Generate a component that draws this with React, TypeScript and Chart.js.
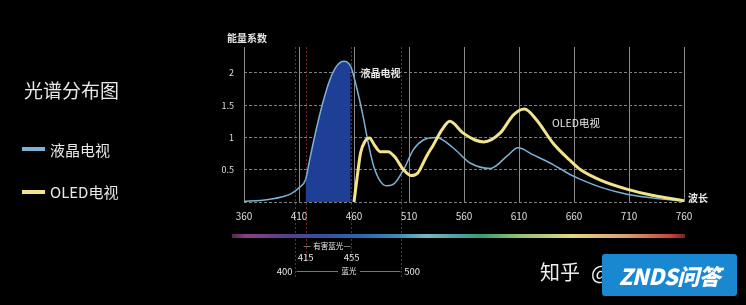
import React, { useEffect, useRef } from "react";
import { Chart, registerables } from "chart.js";

Chart.register(...registerables);

const FONT = '"Noto Sans CJK SC", "Noto Sans", sans-serif';

// LCD TV spectrum (wavelength nm, relative energy)
const LCD_WAVELENGTHS = [360, 375, 385, 395, 403, 410, 416, 420, 426, 432, 438, 444, 451, 457, 462, 468, 473, 478, 484, 490, 497, 505, 514, 523, 535, 550, 566, 584, 599, 609, 623, 641, 656, 666, 684, 708, 732, 760];
const LCD_VALUES = [0.01, 0.025, 0.045, 0.08, 0.13, 0.22, 0.35, 0.68, 1.15, 1.56, 1.89, 2.1, 2.18, 2.1, 1.8, 1.35, 0.91, 0.55, 0.32, 0.25, 0.29, 0.5, 0.81, 0.96, 1.0, 0.84, 0.6, 0.52, 0.71, 0.84, 0.73, 0.58, 0.43, 0.35, 0.23, 0.12, 0.06, 0.01];

// OLED TV spectrum
const OLED_WAVELENGTHS = [460, 463, 466, 470, 474, 479, 484, 491, 497, 505, 512, 518, 526, 532, 540, 547, 559, 570, 578, 593, 605, 615, 626, 641, 656, 666, 684, 708, 732, 760];
const OLED_VALUES = [0, 0.4, 0.76, 0.94, 0.99, 0.87, 0.78, 0.78, 0.7, 0.5, 0.41, 0.45, 0.71, 0.88, 1.12, 1.25, 1.07, 0.96, 0.93, 1.07, 1.35, 1.44, 1.27, 0.91, 0.65, 0.5, 0.34, 0.2, 0.1, 0.02];

const SERIES_NAMES = ["液晶电视", "OLED电视"];
const X_MIN = 360;
const X_MAX = 760;
const X_STEP = 50;
const Y_MIN = 0;
const Y_MAX = 2.4;
const Y_STEP = 0.5;
const Y_LAST_TICK = 2;

// harmful blue light band (drawn positions) and its labels
const HARMFUL_BAND = [416, 457];
const HARMFUL_LABELS = ["415", "455"];
// blue light band
const BLUE_BAND = [406, 503];
const BLUE_LABELS = ["400", "500"];

const LCD_COLOR = "#7db2d6";
const OLED_COLOR = "#f3e48c";
const FILL_COLOR = "#1f3f96";

const annotationPlugin = {
  id: "spectrumAnnotations",
  beforeDatasetsDraw(chart: any) {
    const { ctx, chartArea, scales } = chart;
    const x = scales.x;
    ctx.save();
    ctx.strokeStyle = "rgba(150,45,45,0.8)";
    ctx.lineWidth = 1;
    ctx.setLineDash([2, 2]);
    const lines: [number, number][] = [
      [BLUE_BAND[0], 76],
      [HARMFUL_BAND[0], 58],
      [HARMFUL_BAND[1], 58],
      [BLUE_BAND[1], 76],
    ];
    for (const [wl, extra] of lines) {
      const px = Math.round(x.getPixelForValue(wl)) + 0.5;
      ctx.beginPath();
      ctx.moveTo(px, chartArea.top);
      ctx.lineTo(px, chartArea.bottom + extra);
      ctx.stroke();
    }
    ctx.restore();
  },
  afterDraw(chart: any) {
    const { ctx, chartArea, scales } = chart;
    const x = scales.x;
    const y = scales.y;
    const b = chartArea.bottom;
    ctx.save();

    // spectrum bar
    const x0 = chartArea.left - 12;
    const x1 = chartArea.right + 1;
    const g = ctx.createLinearGradient(x0, 0, x1, 0);
    g.addColorStop(0, "rgba(140,60,130,0.6)");
    g.addColorStop(0.03, "#8a3f82");
    g.addColorStop(0.12, "#5a3f8c");
    g.addColorStop(0.2, "#35509a");
    g.addColorStop(0.29, "#2a6aac");
    g.addColorStop(0.37, "#3e8fb8");
    g.addColorStop(0.43, "#7ab6c4");
    g.addColorStop(0.5, "#4aa2a0");
    g.addColorStop(0.55, "#3a9c72");
    g.addColorStop(0.63, "#8fbf72");
    g.addColorStop(0.75, "#e3d682");
    g.addColorStop(0.87, "#d9a06c");
    g.addColorStop(0.97, "#c8403e");
    g.addColorStop(1, "rgba(200,56,60,0.6)");
    ctx.fillStyle = g;
    ctx.fillRect(x0, b + 32, x1 - x0, 4);

    ctx.fillStyle = "#e6e6e6";
    ctx.textBaseline = "middle";

    // axis titles and series labels inside chart
    ctx.font = `bold 10px ${FONT}`;
    ctx.textAlign = "left";
    ctx.fillText("能量系数", chartArea.left - 17, chartArea.top - 9);
    ctx.font = `bold 10px ${FONT}`;
    ctx.fillText(SERIES_NAMES[0], x.getPixelForValue(466), y.getPixelForValue(1.99));
    ctx.font = `10.5px ${FONT}`;
    ctx.fillText(SERIES_NAMES[1], x.getPixelForValue(640), y.getPixelForValue(1.22));
    ctx.font = `bold 10px ${FONT}`;
    ctx.fillText("波长", chartArea.right + 4, b - 4);

    // harmful blue light annotation
    const hl = x.getPixelForValue(HARMFUL_BAND[0]);
    const hr = x.getPixelForValue(HARMFUL_BAND[1]);
    const hm = (hl + hr) / 2;
    ctx.strokeStyle = "#777";
    ctx.lineWidth = 1;
    ctx.setLineDash([]);
    ctx.beginPath();
    ctx.moveTo(hl - 2, b + 44.5);
    ctx.lineTo(hl + 5, b + 44.5);
    ctx.moveTo(hr - 7, b + 44.5);
    ctx.lineTo(hr, b + 44.5);
    ctx.stroke();
    ctx.font = `7.5px ${FONT}`;
    ctx.textAlign = "center";
    ctx.fillText("有害蓝光", hm, b + 44.5);
    ctx.font = `9.5px ${FONT}`;
    ctx.fillText(HARMFUL_LABELS[0], hl, b + 55);
    ctx.fillText(HARMFUL_LABELS[1], hr + 1, b + 55);

    // blue light annotation
    const bl = x.getPixelForValue(BLUE_BAND[0]);
    const br = x.getPixelForValue(BLUE_BAND[1]);
    const bm = (bl + br) / 2;
    ctx.beginPath();
    ctx.moveTo(bl + 2, b + 69.5);
    ctx.lineTo(bm - 10, b + 69.5);
    ctx.moveTo(bm + 12, b + 69.5);
    ctx.lineTo(br - 1, b + 69.5);
    ctx.stroke();
    ctx.font = `7.5px ${FONT}`;
    ctx.fillText("蓝光", bm + 1, b + 69.5);
    ctx.font = `9.5px ${FONT}`;
    ctx.textAlign = "right";
    ctx.fillText(BLUE_LABELS[0], bl - 2, b + 69);
    ctx.textAlign = "left";
    ctx.fillText(BLUE_LABELS[1], br + 3, b + 69);

    ctx.restore();
  },
};

export default function App() {
  const canvasRef = useRef<HTMLCanvasElement | null>(null);

  useEffect(() => {
    document.body.style.margin = "0";
    document.body.style.background = "#000";
    const canvas = canvasRef.current;
    if (!canvas) return;
    const chart = new Chart(canvas, {
      type: "line",
      data: {
        datasets: [
          {
            label: SERIES_NAMES[0],
            data: LCD_WAVELENGTHS.map((w, i) => ({ x: w, y: LCD_VALUES[i] })),
            borderColor: LCD_COLOR,
            borderWidth: 1.5,
            backgroundColor: "transparent",
            fill: "origin",
            pointRadius: 0,
            cubicInterpolationMode: "monotone",
            segment: {
              backgroundColor: (c: any) =>
                c.p0.parsed.x >= HARMFUL_BAND[0] && c.p1.parsed.x <= HARMFUL_BAND[1]
                  ? FILL_COLOR
                  : "transparent",
            },
            order: 2,
          },
          {
            label: SERIES_NAMES[1],
            data: OLED_WAVELENGTHS.map((w, i) => ({ x: w, y: OLED_VALUES[i] })),
            borderColor: OLED_COLOR,
            borderWidth: 3,
            backgroundColor: "transparent",
            fill: false,
            pointRadius: 0,
            cubicInterpolationMode: "monotone",
            order: 1,
          },
        ],
      },
      options: {
        animation: false,
        responsive: false,
        devicePixelRatio: 1,
        layout: { padding: { left: 0, top: 47, right: 62, bottom: 0 } },
        plugins: { legend: { display: false }, tooltip: { enabled: false } },
        scales: {
          x: {
            type: "linear",
            min: X_MIN,
            max: X_MAX,
            afterFit: (s: any) => {
              s.height = 103;
            },
            ticks: {
              stepSize: X_STEP,
              color: "#dddddd",
              font: { size: 10, family: FONT },
              padding: 8,
              maxRotation: 0,
              callback: (v: any) => String(v),
            },
            grid: { color: "#8a8a8a", lineWidth: 1, drawTicks: false },
            border: { display: false },
          },
          y: {
            type: "linear",
            min: Y_MIN,
            max: Y_MAX,
            afterFit: (s: any) => {
              s.width = 244;
            },
            afterBuildTicks: (s: any) => {
              s.ticks = s.ticks.filter((t: any) => t.value <= Y_LAST_TICK + 1e-6);
            },
            ticks: {
              stepSize: Y_STEP,
              color: "#dddddd",
              font: { size: 9, family: FONT },
              padding: 10,
              callback: (v: any) => (v === 0 ? "" : String(v)),
            },
            grid: { color: "#808080", lineWidth: 1, drawTicks: false },
            border: { display: false, dash: [3, 2] },
          },
        },
      },
      plugins: [annotationPlugin],
    } as any);
    return () => chart.destroy();
  }, []);

  const text: React.CSSProperties = {
    position: "absolute",
    color: "#e8e8e8",
    fontFamily: FONT,
    lineHeight: 1,
    whiteSpace: "nowrap",
  };

  return (
    <div
      style={{
        position: "fixed",
        left: 0,
        top: 0,
        width: 746,
        height: 305,
        background: "#000",
        overflow: "hidden",
      }}
    >
      <canvas ref={canvasRef} width={746} height={305} style={{ position: "absolute", left: 0, top: 0 }} />
      <div style={{ ...text, left: 24, top: 80, fontSize: 19 }}>光谱分布图</div>
      <div style={{ position: "absolute", left: 22, top: 147, width: 23, height: 4, background: LCD_COLOR }} />
      <div style={{ ...text, left: 50, top: 142, fontSize: 15 }}>{SERIES_NAMES[0]}</div>
      <div style={{ position: "absolute", left: 22, top: 190, width: 23, height: 4, background: OLED_COLOR }} />
      <div style={{ ...text, left: 50, top: 184, fontSize: 15 }}>{SERIES_NAMES[1]}</div>
      <div style={{ ...text, left: 540, top: 262, fontSize: 20, color: "#eeeeee" }}>知乎</div>
      <div style={{ ...text, left: 591, top: 262, fontSize: 20, color: "#eeeeee" }}>@</div>
      <div
        style={{
          position: "absolute",
          left: 602,
          top: 254,
          width: 135,
          height: 42,
          background: "#1a88d0",
          borderRadius: 3,
          display: "flex",
          alignItems: "center",
          justifyContent: "center",
          color: "#fff",
          fontFamily: FONT,
          fontWeight: 900,
          fontStyle: "italic",
          fontSize: 22,
          letterSpacing: -0.5,
        }}
      >
        ZNDS问答
      </div>
    </div>
  );
}
